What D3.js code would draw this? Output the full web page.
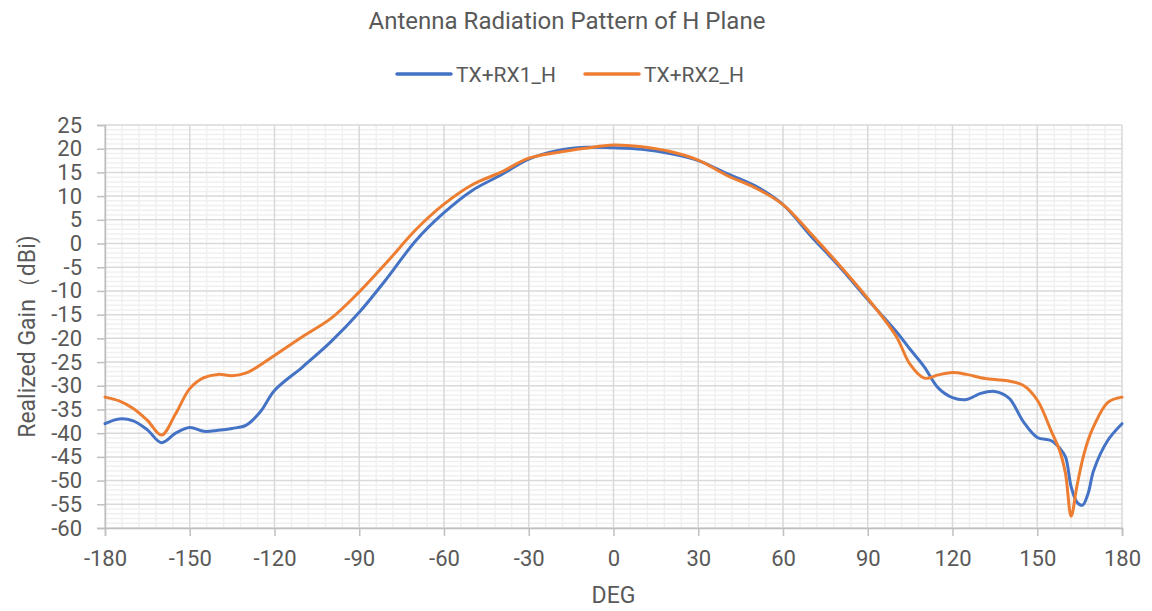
<!DOCTYPE html>
<html>
<head>
<meta charset="utf-8">
<script src="https://cdn.jsdelivr.net/npm/d3@7"></script>
<style>
  html, body { margin: 0; padding: 0; background: #fff; }
  svg { display: block; font-family: Roboto, "Noto Sans", sans-serif; }
</style>
</head>
<body>
<div id="chart"></div>
<script>
// ========== DATA ==========
const angles = [-180, -175, -170, -165, -160, -155, -150, -145, -140, -135, -130, -125, -120, -110, -100,
  -90, -80, -70, -60, -50, -40, -30, -20, -10, 0, 10, 20, 30, 40, 50, 60, 70, 80, 90,
  100, 105, 110, 115, 120, 125, 130, 135, 140, 145, 150, 155, 158, 160, 162, 164, 166, 168, 170, 175, 180];

const rx1 = [-38.0, -37.0, -37.4, -39.3, -42.0, -40.0, -38.8, -39.6, -39.4, -39.0, -38.3, -35.5, -31.0, -26.0, -20.7,
  -14.5, -7.2, 0.6, 6.5, 11.2, 14.4, 17.8, 19.6, 20.3, 20.2, 19.9, 19.0, 17.5, 14.8, 12.2, 8.2, 1.5, -4.9, -11.8,
  -18.5, -22.3, -26.0, -30.5, -32.5, -32.9, -31.6, -31.2, -32.6, -37.5, -40.9, -41.6, -43.2, -45.0, -51.3, -54.5, -55.2, -52.7, -47.8, -41.5, -38.0];

const rx2 = [-32.4, -33.2, -34.8, -37.3, -40.4, -35.9, -30.6, -28.3, -27.6, -27.9, -27.3, -25.6, -23.6, -19.6, -15.8,
  -10.2, -3.8, 2.9, 8.3, 12.4, 15.0, 18.0, 19.2, 20.1, 20.8, 20.4, 19.4, 17.6, 14.4, 11.8, 8.2, 2.0, -4.6, -11.6,
  -19.5, -25.5, -28.4, -27.7, -27.2, -27.6, -28.3, -28.7, -29.0, -29.9, -33.0, -39.6, -43.8, -48.5, -57.5, -51.3, -45.7, -41.5, -38.5, -33.5, -32.4];

const seriesNames = ['TX+RX1_H', 'TX+RX2_H'];
const seriesColors = ['#4472C4', '#ED7D31'];
const xTicks = [-180, -150, -120, -90, -60, -30, 0, 30, 60, 90, 120, 150, 180];
const yTicks = [25, 20, 15, 10, 5, 0, -5, -10, -15, -20, -25, -30, -35, -40, -45, -50, -55, -60];

// ========== CHART ==========
const W = 1152, H = 611;
const margin = { top: 125, right: 30, bottom: 83, left: 105 };
const width = W - margin.left - margin.right;
const height = H - margin.top - margin.bottom;

const svg = d3.select('#chart').append('svg').attr('width', W).attr('height', H);
const g = svg.append('g').attr('transform', `translate(${margin.left},${margin.top})`);

const x = d3.scaleLinear().domain([-180, 180]).range([0, width]);
const y = d3.scaleLinear().domain([-60, 25]).range([height, 0]);

// Minor grid
g.append('g').selectAll('line').data(d3.range(-180, 181, 6).filter(d => d % 30 !== 0)).enter().append('line')
  .attr('x1', d => x(d)).attr('x2', d => x(d)).attr('y1', 0).attr('y2', height)
  .attr('stroke', '#f0f0f0').attr('stroke-width', 1.5);
g.append('g').selectAll('line').data(d3.range(-60, 26, 1).filter(d => d % 5 !== 0)).enter().append('line')
  .attr('x1', 0).attr('x2', width).attr('y1', d => y(d)).attr('y2', d => y(d))
  .attr('stroke', '#f0f0f0').attr('stroke-width', 1.5);

// Major grid
g.append('g').selectAll('line').data(xTicks).enter().append('line')
  .attr('x1', d => x(d)).attr('x2', d => x(d)).attr('y1', 0).attr('y2', height)
  .attr('stroke', '#d9d9d9').attr('stroke-width', 1.5);
g.append('g').selectAll('line').data(yTicks).enter().append('line')
  .attr('x1', 0).attr('x2', width).attr('y1', d => y(d)).attr('y2', d => y(d))
  .attr('stroke', '#d9d9d9').attr('stroke-width', 1.5);

// Axes
const xAxis = g.append('g').attr('transform', `translate(0,${height})`)
  .call(d3.axisBottom(x).tickValues(xTicks).tickSize(8).tickPadding(14).tickFormat(d => String(d)));
const yAxis = g.append('g')
  .call(d3.axisLeft(y).tickValues(yTicks).tickSize(8).tickPadding(15).tickFormat(d => String(d)));
[xAxis, yAxis].forEach(a => {
  a.selectAll('.domain, .tick line').attr('stroke', '#bfbfbf').attr('stroke-width', 1.5);
  a.selectAll('text').style('font-size', '22px').style('fill', '#595959')
    .style('font-family', 'Roboto, sans-serif');
});

// Lines
const line = d3.line().x((d, i) => x(angles[i])).y(d => y(d)).curve(d3.curveCatmullRom.alpha(0.5));
[rx1, rx2].forEach((vals, k) => {
  g.append('path').datum(vals).attr('fill', 'none')
    .attr('stroke', seriesColors[k]).attr('stroke-width', 3)
    .attr('stroke-linejoin', 'round').attr('stroke-linecap', 'round')
    .attr('d', line);
});

// Title
svg.append('text').attr('x', 567).attr('y', 29).attr('text-anchor', 'middle')
  .style('font-size', '24px').style('fill', '#595959').text('Antenna Radiation Pattern of H Plane');

// Legend
const legendX = [397, 585];
seriesNames.forEach((name, k) => {
  const lg = svg.append('g').attr('transform', `translate(${legendX[k]},74)`);
  lg.append('line').attr('x1', 0).attr('x2', 54).attr('y1', 0).attr('y2', 0)
    .attr('stroke', seriesColors[k]).attr('stroke-width', 3.5).attr('stroke-linecap', 'round');
  lg.append('text').attr('x', 59).attr('y', 8).style('font-size', '21px').style('fill', '#595959').text(name);
});

// Axis titles
svg.append('text').attr('x', margin.left + x(0)).attr('y', 603).attr('text-anchor', 'middle')
  .style('font-size', '23px').style('fill', '#595959').text('DEG');
svg.append('text').attr('transform', `translate(35,${margin.top + height / 2 + 10}) rotate(-90)`)
  .attr('text-anchor', 'middle').style('font-size', '23px').style('fill', '#595959')
  .text('Realized Gain（dBi)');
</script>
</body>
</html>
